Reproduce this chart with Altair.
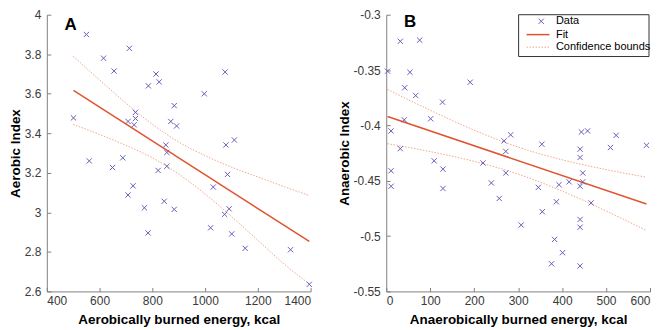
import altair as alt
import pandas as pd

# ---------------- Panel A data ----------------
a_x = [550, 713, 615, 655, 814, 826, 785, 1076, 997, 883, 501, 736, 708, 736, 731,
       870, 892, 1079, 1111, 851, 855, 561, 688, 649, 855, 822, 1085, 1031, 727, 708,
       845, 770, 883, 1091, 1074, 784, 1021, 1101, 1152, 1324, 1395]
a_y = [3.90, 3.83, 3.78, 3.715, 3.70, 3.66, 3.64, 3.71, 3.60, 3.54, 3.478, 3.506, 3.46,
       3.475, 3.443, 3.46, 3.437, 3.341, 3.366, 3.341, 3.303, 3.26, 3.276, 3.227, 3.233,
       3.212, 3.192, 3.128, 3.134, 3.088, 3.056, 3.023, 3.015, 3.018, 2.99, 2.896, 2.922,
       2.891, 2.818, 2.811, 2.636]
a_fit_x = [501, 1395]
a_fit_y = [3.617, 2.853]
a_band_x = [500, 600, 700, 800, 900, 1000, 1100, 1200, 1300, 1395]
a_band_up = [3.79, 3.67, 3.553, 3.446, 3.356, 3.287, 3.229, 3.179, 3.130, 3.085]
a_band_lo = [3.445, 3.394, 3.339, 3.276, 3.194, 3.093, 2.979, 2.859, 2.738, 2.638]

# ---------------- Panel B data ----------------
b_x = [3, 32, 76, 54, 42, 67, 128, 191, 41, 11, 101, 32, 109, 220, 268, 283, 272, 354,
       444, 458, 441, 441, 510, 523, 592, 11, 129, 11, 129, 239, 272, 257, 307, 346, 393,
       416, 447, 447, 441, 387, 355, 466, 441, 441, 383, 401, 376, 441]
b_y = [-0.351, -0.324, -0.323, -0.352, -0.366, -0.373, -0.379, -0.361, -0.395, -0.405,
       -0.394, -0.421, -0.432, -0.434, -0.414, -0.4085, -0.4235, -0.417, -0.406, -0.405,
       -0.4215, -0.429, -0.420, -0.409, -0.418, -0.441, -0.4395, -0.455, -0.457, -0.452,
       -0.443, -0.466, -0.490, -0.456, -0.4536, -0.451, -0.443, -0.451, -0.455, -0.469,
       -0.478, -0.470, -0.485, -0.492, -0.503, -0.515, -0.525, -0.527]
b_fit_x = [3, 592]
b_fit_y = [-0.392, -0.471]
b_band_x = [3, 100, 200, 300, 400, 500, 592]
b_band_up = [-0.3675, -0.3863, -0.4043, -0.4196, -0.4311, -0.4399, -0.4468]
b_band_lo = [-0.4165, -0.4237, -0.4325, -0.4440, -0.4593, -0.4773, -0.4950]

a_ticks_y = [2.6, 2.8, 3.0, 3.2, 3.4, 3.6, 3.8, 4.0]
a_ticks_x = [400, 600, 800, 1000, 1200, 1400]
b_ticks_y = [-0.55, -0.5, -0.45, -0.4, -0.35, -0.3]
b_ticks_x = [0, 100, 200, 300, 400, 500, 600]

legend_labels = ["Data", "Fit", "Confidence bounds"]

FONT = "Liberation Sans"
PT_COLOR = "#6b5bb8"
FIT_COLOR = "#e0532f"
BAND_COLOR = "#f2a68a"
XSHAPE = "M-1,-1L1,1M1,-1L-1,1"
W, H = 265, 278


def panel(xs, ys, fx, fy, bx, bup, blo, xvals, yvals, xtitle, ytitle, letter, legend=False):
    pts = pd.DataFrame({"x": xs, "y": ys})
    fit = pd.DataFrame({"x": fx, "y": fy})
    band = pd.DataFrame({"x": bx + bx, "y": bup + blo,
                         "k": ["up"] * len(bx) + ["lo"] * len(bx)})
    xs_ = alt.Scale(domain=[xvals[0], xvals[-1]], nice=False, zero=False)
    ys_ = alt.Scale(domain=[yvals[0], yvals[-1]], nice=False, zero=False)
    xax = alt.Axis(values=xvals, tickCount=len(xvals), title=xtitle, labelPadding=8,
                   titlePadding=6, format="d", labelOverlap=False)
    yax = alt.Axis(values=yvals, tickCount=len(yvals), title=ytitle, labelPadding=10,
                   titlePadding=2, labelExpr="replace(datum.label, '\u2212', '-')",
                   format="~g", labelOverlap=False)

    points = alt.Chart(pts).mark_point(shape=XSHAPE, size=28, strokeWidth=1,
                                       color=PT_COLOR, filled=False, opacity=1).encode(
        x=alt.X("x:Q", scale=xs_, axis=xax),
        y=alt.Y("y:Q", scale=ys_, axis=yax),
    )
    bands = alt.Chart(band).mark_line(color=BAND_COLOR, strokeWidth=1,
                                      strokeDash=[1.5, 1.5], interpolate="monotone").encode(
        x=alt.X("x:Q", scale=xs_), y=alt.Y("y:Q", scale=ys_), detail="k:N")
    fitl = alt.Chart(fit).mark_line(color=FIT_COLOR, strokeWidth=1.5).encode(
        x=alt.X("x:Q", scale=xs_), y=alt.Y("y:Q", scale=ys_))
    one = pd.DataFrame({"d": [0]})
    lab = alt.Chart(one).mark_text(font=FONT, fontSize=17, fontWeight="bold",
                                   align="center", baseline="middle", color="black").encode(
        x=alt.value(24), y=alt.value(10.5 if letter == "A" else 7.5), text=alt.value(letter))
    layers = [bands, fitl, points, lab]
    if legend:
        box = alt.Chart(one).mark_rect(fill="white", stroke="#333333", strokeWidth=1).encode(
            x=alt.value(133), x2=alt.value(264), y=alt.value(0), y2=alt.value(42))
        lpt = alt.Chart(one).mark_point(shape=XSHAPE, size=28, strokeWidth=1,
                                        color=PT_COLOR, filled=False, opacity=1).encode(
            x=alt.value(155.7), y=alt.value(6.6))
        lfit = alt.Chart(one).mark_rule(color=FIT_COLOR, strokeWidth=1.5).encode(
            x=alt.value(141), x2=alt.value(164), y=alt.value(20))
        lband = alt.Chart(one).mark_rule(color=BAND_COLOR, strokeWidth=1,
                                         strokeDash=[1.5, 1.5]).encode(
            x=alt.value(141), x2=alt.value(164), y=alt.value(32.6))
        texts = [alt.Chart(one).mark_text(font=FONT, fontSize=11, align="left",
                                          baseline="middle", color="black").encode(
            x=alt.value(170.5), y=alt.value(yy), text=alt.value(t))
            for t, yy in zip(legend_labels, [6.6, 20, 32.6])]
        layers += [box, lpt, lfit, lband] + texts
    return alt.layer(*layers).properties(width=W, height=H)


pa = panel(a_x, a_y, a_fit_x, a_fit_y, a_band_x, a_band_up, a_band_lo,
           a_ticks_x, a_ticks_y,
           "Aerobically burned energy, kcal", "Aerobic Index", "A")
pb = panel(b_x, b_y, b_fit_x, b_fit_y, b_band_x, b_band_up, b_band_lo,
           b_ticks_x, b_ticks_y,
           "Anaerobically burned energy, kcal", "Anaerobic Index", "B", legend=True)

chart = alt.hconcat(pa, pb, spacing=22).properties(
    padding={"left": 0, "top": 0, "right": 0, "bottom": 0}
).configure_view(stroke=None).configure_axis(
    grid=False, domainColor="#808080", tickColor="#808080",
    tickSize={"expr": "-4"},
    labelFont=FONT, labelFontSize=12, labelColor="#3a3a3a",
    titleFont=FONT, titleFontSize=13.5, titleFontWeight="bold", titleColor="black",
)

chart.save("out.html", embed_options={"renderer": "svg", "actions": False})
